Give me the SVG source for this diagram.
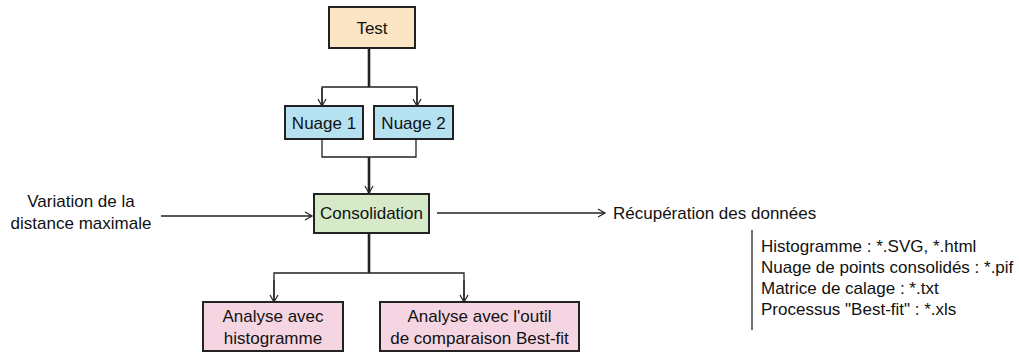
<svg xmlns="http://www.w3.org/2000/svg" width="1019" height="354" viewBox="0 0 1019 354">
<defs>
<marker id="arr" markerWidth="10" markerHeight="10" refX="8" refY="5" orient="auto" markerUnits="userSpaceOnUse">
<path d="M1,1 L8,5 L1,9" fill="none" stroke="#222" stroke-width="1.2"/>
</marker>
<style>
.t{font-family:"Liberation Sans",Arial,sans-serif;font-size:17px;fill:#111}
.m{text-anchor:middle}
.box{stroke:#222;stroke-width:2}
.thin{fill:none;stroke:#222;stroke-width:1.3}
.thick{fill:none;stroke:#222;stroke-width:2.6}
</style>
</defs>
<rect width="1019" height="354" fill="#fff"/>
<g id="connectors">
<line class="thick" x1="369" y1="48" x2="369" y2="87"/>
<polyline class="thin" points="322,106 322,87 417,87 417,106"/>
<line class="thin" x1="322" y1="88" x2="322" y2="106" marker-end="url(#arr)"/>
<line class="thin" x1="417" y1="88" x2="417" y2="106" marker-end="url(#arr)"/>
<polyline class="thin" points="322,139 322,157 416,157 416,139"/>
<line class="thick" x1="369" y1="157" x2="369" y2="193" marker-end="url(#arr)"/>
<line class="thin" x1="161" y1="216" x2="312" y2="216" marker-end="url(#arr)"/>
<line class="thin" x1="437" y1="213" x2="605" y2="213" marker-end="url(#arr)"/>
<line class="thick" x1="369" y1="233" x2="369" y2="273"/>
<polyline class="thin" points="274,302 274,273 464,273 464,302"/>
<line class="thin" x1="274" y1="280" x2="274" y2="302" marker-end="url(#arr)"/>
<line class="thin" x1="464" y1="280" x2="464" y2="302" marker-end="url(#arr)"/>
<line x1="752" y1="230" x2="752" y2="330" stroke="#444" stroke-width="1.5"/>
</g>
<g id="test">
<rect class="box" x="329" y="7" width="86" height="41" fill="#fbe5c4"/>
<text class="t m" x="372" y="34">Test</text>
</g>
<g id="nuage1">
<rect class="box" x="285" y="106" width="78" height="33" fill="#b5e1f1"/>
<text class="t m" x="324" y="129">Nuage 1</text>
</g>
<g id="nuage2">
<rect class="box" x="374" y="106" width="79" height="33" fill="#b5e1f1"/>
<text class="t m" x="413.5" y="129">Nuage 2</text>
</g>
<g id="consolidation">
<rect class="box" x="314" y="194" width="115" height="39" fill="#d6e9c9"/>
<text class="t m" x="371.5" y="219">Consolidation</text>
</g>
<g id="variation">
<text class="t m" x="81" y="207">Variation de la</text>
<text class="t m" x="81" y="229">distance maximale</text>
</g>
<g id="recuperation">
<text class="t" x="613" y="219">Récupération des données</text>
</g>
<g id="legend">
<text class="t" x="761" y="252">Histogramme : *.SVG, *.html</text>
<text class="t" x="761" y="273">Nuage de points consolidés : *.pif</text>
<text class="t" x="761" y="294">Matrice de calage : *.txt</text>
<text class="t" x="761" y="315">Processus "Best-fit" : *.xls</text>
</g>
<g id="analyse-histogramme">
<rect class="box" x="203" y="302" width="140" height="49" fill="#f6d5e3"/>
<text class="t m" x="273" y="322">Analyse avec</text>
<text class="t m" x="273" y="344">histogramme</text>
</g>
<g id="analyse-bestfit">
<rect class="box" x="380" y="302" width="199" height="49" fill="#f6d5e3"/>
<text class="t m" x="479.5" y="322">Analyse avec l'outil</text>
<text class="t m" x="479.5" y="344">de comparaison Best-fit</text>
</g>
</svg>
